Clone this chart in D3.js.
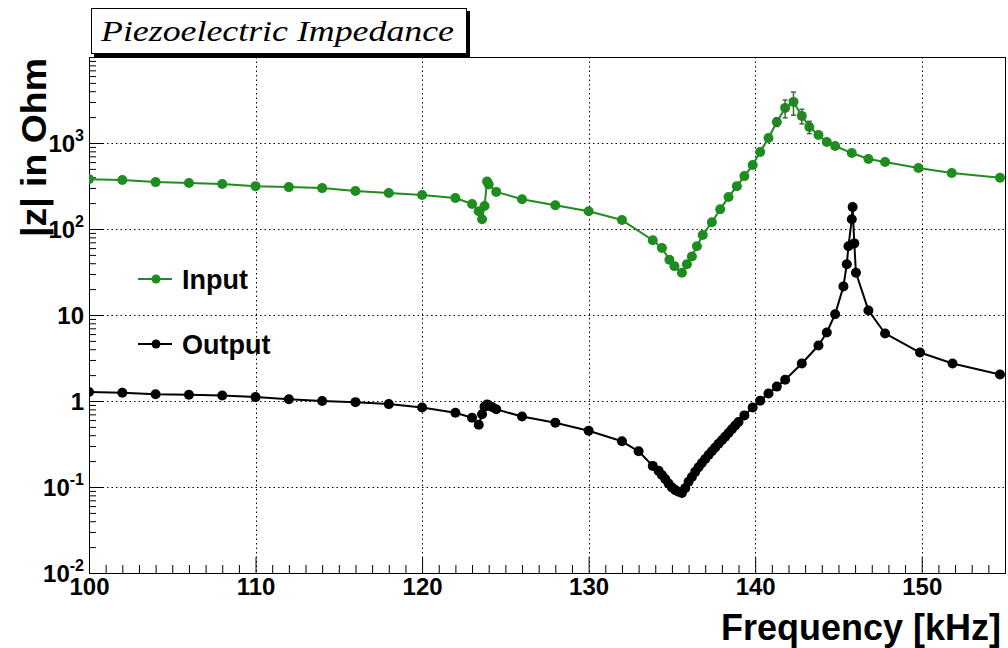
<!DOCTYPE html>
<html>
<head>
<meta charset="utf-8">
<script src="https://cdn.jsdelivr.net/npm/d3@7"></script>
<style>
body { margin: 0; background: #fff; }
</style>
</head>
<body>
<svg id="chart" width="1008" height="648"></svg>
<script>
var inputFreq = [100,102,104,106,108,110,112,114,116,118,120,
  122,123,123.4,123.6,123.75,123.9,124,124.45,
  126,128,130,132,133.85,
  134.4,134.85,135.15,135.6,135.9,136.2,136.5,136.85,
  137.4,137.9,138.4,138.9,139.35,139.85,140.3,140.8,141.3,141.8,142.3,142.8,143.25,143.8,144.3,144.8,
  145.8,146.8,147.8,149.8,151.8,154.7];
var inputZ = [380,371,351,342,333,315,307,299,276,262,248,
  229,195,161,130,185,357,330,270,
  222,189,161,127,74,
  60,44,37,31,39,48,63,85,
  120,170,235,315,412,554,786,1143,1757,2560,3006,2066,1536,1239,1027,923,
  764,651,601,512,448,395];

// error bars visible only around the input peak
var inputErrFreq = [141.3, 141.8, 142.3, 142.8, 143.25];
var inputErr = [200, 600, 900, 400, 250];

var outputFreq = [100,102,104,106,108,110,112,114,116,118,120,
  122,123,123.4,123.6,123.75,123.9,124,124.2,124.45,
  126,128,130,132,133,133.85,134.2,
  134.4,134.6,134.8,135,135.2,135.4,135.6,135.8,136,136.2,136.4,136.6,136.8,137,137.2,137.4,137.6,137.8,138,138.2,138.4,138.6,138.8,139,
  139.35,139.85,140.3,140.8,141.3,141.8,142.8,143.8,144.3,144.8,
  145.3,145.5,145.6,145.8,145.85,145.95,146.05,
  146.8,147.8,149.9,151.85,154.7];
var outputZ = [1.27,1.25,1.2,1.18,1.16,1.11,1.05,1.0,0.97,0.92,0.84,
  0.73,0.64,0.53,0.7,0.86,0.91,0.89,0.85,0.8,
  0.66,0.56,0.45,0.34,0.26,0.176,0.154,
  0.138,0.124,0.11,0.099,0.092,0.088,0.085,0.097,0.115,0.131,0.15,0.17,0.19,0.212,0.235,0.26,0.288,0.318,0.35,0.385,0.425,0.47,0.52,0.57,
  0.68,0.84,1.01,1.22,1.47,1.77,2.73,4.42,6.27,10.2,
  21.5,39,63,130,180,68,31,
  11.3,6.1,3.66,2.73,2.03];

var xTicks = [100,110,120,130,140,150];
var yTicks = [0.01,0.1,1,10,100,1000];
var yTickBase = ["10","10","1","10","10","10"];
var yTickExp = ["-2","-1","","","2","3"];

var green = "#1e8c1e";
var font = "'Liberation Sans', Arial, Helvetica, sans-serif";

var svg = d3.select("#chart");
var fLeft = 89, fRight = 1005, fTop = 57, fBottom = 573;

var x = d3.scaleLinear().domain([100, 155]).range([fLeft, fRight]);
var y = d3.scaleLog().domain([0.01, 10000]).range([fBottom, fTop]);

svg.append("rect").attr("width", 1008).attr("height", 648).attr("fill", "#fff");

// grid
var grid = svg.append("g").attr("stroke", "#000").attr("stroke-width", 1)
  .attr("stroke-dasharray", "1.5,3");
grid.selectAll(".gx").data(xTicks.slice(1)).join("line")
  .attr("x1", d => Math.round(x(d)) + 0.5).attr("x2", d => Math.round(x(d)) + 0.5)
  .attr("y1", fTop).attr("y2", fBottom);
grid.selectAll(".gy").data(yTicks.slice(1)).join("line")
  .attr("y1", d => Math.round(y(d)) + 0.5).attr("y2", d => Math.round(y(d)) + 0.5)
  .attr("x1", fLeft).attr("x2", fRight);

// frame
svg.append("rect").attr("x", fLeft + 0.5).attr("y", fTop + 0.5)
  .attr("width", fRight - fLeft).attr("height", fBottom - fTop)
  .attr("fill", "none").attr("stroke", "#000").attr("stroke-width", 1);

// x axis
var xMinor = d3.range(101, 155).filter(d => d % 10 != 0);
svg.append("g").attr("transform", "translate(0," + fBottom + ")")
  .call(d3.axisBottom(x).tickValues(xMinor).tickSizeInner(-8).tickSizeOuter(0).tickFormat(""))
  .call(g => g.select(".domain").remove());
var gx = svg.append("g").attr("transform", "translate(0," + fBottom + ")")
  .call(d3.axisBottom(x).tickValues(xTicks).tickSizeInner(-16).tickSizeOuter(0).tickPadding(5).tickFormat(d3.format("d")));
gx.select(".domain").attr("stroke", "#000");
gx.selectAll("text").attr("font-family", font).attr("font-weight", "bold")
  .attr("font-size", 24).attr("fill", "#000");

// y axis
var yMinor = [];
[-2, -1, 0, 1, 2, 3].forEach(function(e) {
  for (var k = 2; k <= 9; k++) yMinor.push(k * Math.pow(10, e));
});
svg.append("g").attr("transform", "translate(" + fLeft + ",0)")
  .call(d3.axisLeft(y).tickValues(yMinor).tickSizeInner(-7).tickSizeOuter(0).tickFormat(""))
  .call(g => g.select(".domain").remove());
svg.append("g").attr("transform", "translate(" + fLeft + ",0)")
  .call(d3.axisLeft(y).tickValues(yTicks).tickSizeInner(-14).tickSizeOuter(0).tickFormat(""));

var ylab = svg.append("g").attr("font-family", font).attr("font-weight", "bold")
  .attr("font-size", 24).attr("text-anchor", "end");
yTicks.forEach(function(v, i) {
  var t = ylab.append("text").attr("x", fLeft - 5).attr("y", y(v) + 9).text(yTickBase[i]);
  if (yTickExp[i]) t.append("tspan").attr("dy", -11).attr("font-size", 16).text(yTickExp[i]);
});

// axis titles
svg.append("text").attr("x", 1001).attr("y", 640).attr("text-anchor", "end")
  .attr("font-family", font).attr("font-weight", "bold").attr("font-size", 37)
  .attr("textLength", 280).attr("lengthAdjust", "spacingAndGlyphs")
  .text("Frequency [kHz]");
svg.append("text").attr("transform", "translate(46,58) rotate(-90)").attr("text-anchor", "end")
  .attr("font-family", font).attr("font-weight", "bold").attr("font-size", 35)
  .attr("textLength", 179).attr("lengthAdjust", "spacingAndGlyphs")
  .text("|z| in Ohm");

// data
svg.append("defs").append("clipPath").attr("id", "frame")
  .append("rect").attr("x", fLeft).attr("y", fTop).attr("width", fRight - fLeft).attr("height", fBottom - fTop);
var plot = svg.append("g").attr("clip-path", "url(#frame)");

function drawSeries(freq, z, color) {
  var pts = freq.map((f, i) => [x(f), y(z[i])]);
  plot.append("path").attr("d", d3.line()(pts)).attr("fill", "none")
    .attr("stroke", color).attr("stroke-width", 2).attr("stroke-linejoin", "round");
  plot.append("g").selectAll("circle").data(pts).join("circle")
    .attr("cx", d => d[0]).attr("cy", d => d[1]).attr("r", 5).attr("fill", color);
}

drawSeries(inputFreq, inputZ, green);
drawSeries(outputFreq, outputZ, "#000");

var errG = plot.append("g").attr("stroke", "#3a6b3a").attr("stroke-width", 1.5);
inputErrFreq.forEach(function(f, i) {
  var v = inputZ[inputFreq.indexOf(f)];
  var xp = x(f), y1 = y(v + inputErr[i]), y2 = y(Math.max(v - inputErr[i], 1));
  errG.append("line").attr("x1", xp).attr("x2", xp).attr("y1", y1).attr("y2", y2);
  errG.append("line").attr("x1", xp - 2.5).attr("x2", xp + 2.5).attr("y1", y1).attr("y2", y1);
  errG.append("line").attr("x1", xp - 2.5).attr("x2", xp + 2.5).attr("y1", y2).attr("y2", y2);
});

// legend
var legend = svg.append("g");
[["Input", green, 279], ["Output", "#000", 344]].forEach(function(d) {
  legend.append("line").attr("x1", 138).attr("x2", 172).attr("y1", d[2]).attr("y2", d[2])
    .attr("stroke", d[1]).attr("stroke-width", 2);
  legend.append("circle").attr("cx", 156).attr("cy", d[2]).attr("r", 4.5).attr("fill", d[1]);
  legend.append("text").attr("x", 182).attr("y", d[2] + 10).attr("font-family", font)
    .attr("font-weight", "bold").attr("font-size", 27).text(d[0]);
});

// title box with shadow
svg.append("rect").attr("x", 94).attr("y", 11).attr("width", 376).attr("height", 46).attr("fill", "#000");
svg.append("rect").attr("x", 91.5).attr("y", 8.5).attr("width", 375).attr("height", 45)
  .attr("fill", "#fff").attr("stroke", "#000").attr("stroke-width", 1);
svg.append("text").attr("x", 101).attr("y", 41)
  .attr("font-family", "'Liberation Serif', 'Times New Roman', serif").attr("font-style", "italic")
  .attr("font-size", 30).attr("textLength", 353).attr("lengthAdjust", "spacingAndGlyphs")
  .text("Piezoelectric Impedance");
</script>
</body>
</html>
